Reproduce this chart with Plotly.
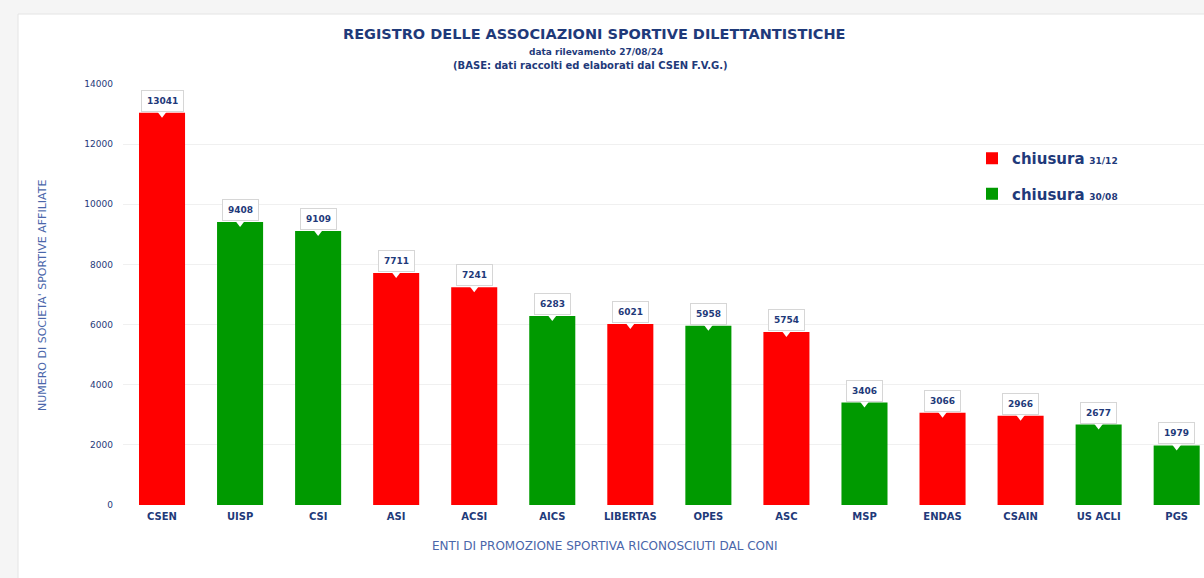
import plotly.graph_objects as go

categories = ["CSEN", "UISP", "CSI", "ASI", "ACSI", "AICS", "LIBERTAS", "OPES",
              "ASC", "MSP", "ENDAS", "CSAIN", "US ACLI", "PGS"]
values = [13041, 9408, 9109, 7711, 7241, 6283, 6021, 5958, 5754, 3406, 3066, 2966, 2677, 1979]
closing = ["31/12", "30/08", "30/08", "31/12", "31/12", "30/08", "31/12", "30/08",
           "31/12", "30/08", "31/12", "31/12", "30/08", "30/08"]
y_ticks = [0, 2000, 4000, 6000, 8000, 10000, 12000, 14000]

NAVY = "#1f3a7a"
LIGHT = "#4a66aa"
COLORS = {"31/12": "#ff0000", "30/08": "#009a00"}

fig = go.Figure()
for grp in ["31/12", "30/08"]:
    xs = [c for c, g in zip(categories, closing) if g == grp]
    ys = [v for v, g in zip(values, closing) if g == grp]
    fig.add_trace(go.Bar(
        x=xs, y=ys, marker_color=COLORS[grp], marker_line_width=0,
        name=f"<b>chiusura</b> <span style='font-size:9px'><b>{grp}</b></span>",
        legendgroup=grp, width=0.59,
    ))

# callout notch
fig.add_trace(go.Scatter(
    x=categories, y=values, mode="markers", showlegend=False, hoverinfo="skip",
    marker=dict(symbol="triangle-down", size=10, color="white", line_width=0),
))

for c, v in zip(categories, values):
    fig.add_annotation(
        x=c, y=v, xref="x", yref="y", text=f"<b>{v}</b>", showarrow=False,
        yanchor="bottom", yshift=1,
        font=dict(family="DejaVu Sans", size=9, color=NAVY),
        bgcolor="white", bordercolor="#d6d6d6", borderwidth=1, borderpad=5,
    )


def px_x(p):
    return (p - 123) / (1204 - 123)


def px_y(p):
    return (505 - p) / (505 - 84)


def label(text, x, y, size, color=NAVY, angle=0):
    fig.add_annotation(x=px_x(x), y=px_y(y), xref="paper", yref="paper",
                       text=text, showarrow=False, xanchor="center", yanchor="middle",
                       textangle=angle,
                       font=dict(family="DejaVu Sans", size=size, color=color))


label("<b>REGISTRO DELLE ASSOCIAZIONI SPORTIVE DILETTANTISTICHE</b>", 594, 34, 14.5)
label("<b>data rilevamento 27/08/24</b>", 596, 52, 9)
label("<b>(BASE: dati raccolti ed elaborati dal CSEN F.V.G.)</b>", 590, 65, 10)
label("ENTI DI PROMOZIONE SPORTIVA RICONOSCIUTI DAL CONI", 605, 546, 12, LIGHT)
label("NUMERO DI SOCIETA' SPORTIVE AFFILIATE", 42, 295, 11, LIGHT, -90)

fig.update_layout(
    width=1204, height=578,
    margin=dict(l=123, r=0, t=84, b=73),
    paper_bgcolor="#f5f5f5", plot_bgcolor="white",
    barmode="overlay", bargap=0.41,
    showlegend=True,
    legend=dict(x=px_x(972), y=px_y(142), xanchor="left", yanchor="top",
                bgcolor="rgba(0,0,0,0)", tracegroupgap=13,
                font=dict(family="DejaVu Sans", size=15, color=NAVY),
                itemwidth=30),
    xaxis=dict(categoryorder="array", categoryarray=categories,
               range=[-0.5, 13.35], showgrid=False, showline=False, ticks="",
               tickfont=dict(family="DejaVu Sans", size=10, color=NAVY),
               tickprefix="<b>", ticksuffix="</b>", ticklabelstandoff=4),
    yaxis=dict(range=[0, 14000], tickvals=y_ticks, tickformat="d",
               showgrid=True, gridcolor="#f0f0f0",
               zeroline=False, showline=False, ticks="",
               tickfont=dict(family="DejaVu Sans", size=9, color=NAVY),
               tickprefix="<b>", ticksuffix="</b>", ticklabelstandoff=9),
    shapes=[dict(type="rect", xref="paper", yref="paper", layer="below",
                 x0=px_x(18), x1=px_x(1215), y0=px_y(600), y1=px_y(14),
                 fillcolor="white", line=dict(color="#e4e4e4", width=1))],
)

fig.write_html("out.html", config={"displayModeBar": False},
               post_script="document.body.style.margin='0';")
